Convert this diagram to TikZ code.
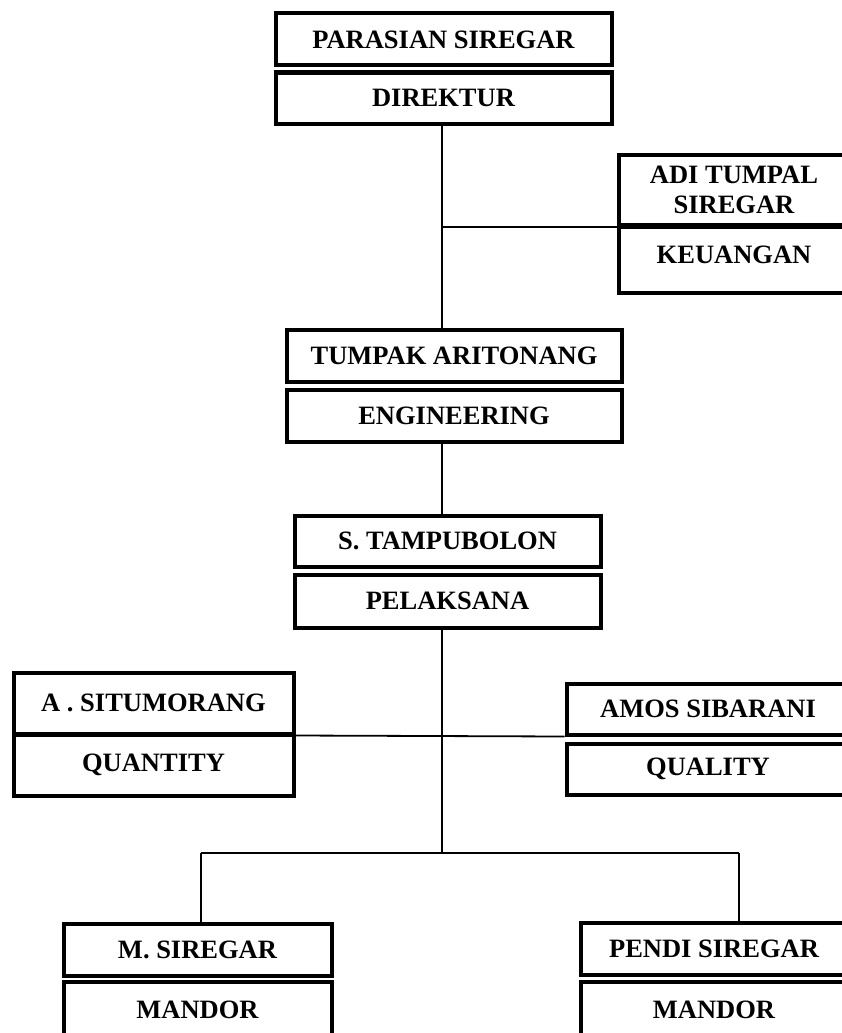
\documentclass[tikz,border=0pt]{standalone}
\usepackage{fontspec}
\setmainfont{Liberation Serif}
\usetikzlibrary{positioning}

\begin{document}
\begin{tikzpicture}[
        x=1pt, y=-1pt,
        font=\bfseries\fontsize{26.5}{30}\selectfont,
        orgbox/.style={draw, line width=4pt, inner sep=0pt, align=center},
        link/.style={line width=1.8pt}
      ]
        \clip (0,0) rectangle (842,1033);

        % column positions
        \def\cM{443.5} \def\cL{153.5} \def\cR{708}

        % ---- Direktur ----
        \node[orgbox, minimum width=336, minimum height=52] (dirname) at (\cM,39.5) {PARASIAN SIREGAR};
        \node[orgbox, minimum width=336, minimum height=51] (dir) at (\cM,98) {DIREKTUR};

        % ---- Keuangan ----
        \node[orgbox, minimum width=231, minimum height=70] (keuname) at (734,190) {ADI TUMPAL\\SIREGAR};
        \node[orgbox, minimum width=231, minimum height=66, text depth=10pt] (keu) at (734,260) {KEUANGAN};

        % ---- Engineering ----
        \node[orgbox, minimum width=335, minimum height=52] (engname) at (454,355.5) {TUMPAK ARITONANG};
        \node[orgbox, minimum width=335, minimum height=52] (eng) at (454,415.5) {ENGINEERING};

        % ---- Pelaksana ----
        \node[orgbox, minimum width=306, minimum height=51] (pelname) at (447.5,541) {S. TAMPUBOLON};
        \node[orgbox, minimum width=306, minimum height=53] (pel) at (447.5,601) {PELAKSANA};

        % ---- Quantity / Quality ----
        \node[orgbox, minimum width=280, minimum height=61] (qtyname) at (\cL,703) {A . SITUMORANG};
        \node[orgbox, minimum width=280, minimum height=61] (qty) at (\cL,765) {QUANTITY};
        \node[orgbox, minimum width=283, minimum height=51] (qlyname) at (\cR,709) {AMOS SIBARANI};
        \node[orgbox, minimum width=283, minimum height=51] (qly) at (\cR,769) {QUALITY};

        % ---- Mandor ----
        \node[orgbox, minimum width=268, minimum height=52] (mdaname) at (197.5,949.5) {M. SIREGAR};
        \node[orgbox, minimum width=268, minimum height=57] (mda) at (197.5,1010) {MANDOR};
        \node[orgbox, minimum width=267, minimum height=52] (mdbname) at (714,948.5) {PENDI SIREGAR};
        \node[orgbox, minimum width=267, minimum height=57] (mdb) at (714,1010) {MANDOR};

        % connectors
        \coordinate (spine) at (442,853);
        \coordinate (barL) at (201,853);
        \coordinate (barR) at (739,853);

        \draw[link] (dir.south -| spine) -- (engname.north -| spine);
        \draw[link] ([yshift=-2pt]keu.north west -| spine) -- ([yshift=-2pt]keu.north west);
        \draw[link] (eng.south -| spine) -- (pelname.north -| spine);
        \draw[link] (pel.south -| spine) -- (spine);
        \draw[link] (qtyname.south east) -- (qlyname.south west);
        \draw[link] (barL) -- (barR);
        \draw[link] (barL) -- (mdaname.north -| barL);
        \draw[link] (barR) -- (mdbname.north -| barR);
    \end{tikzpicture}
\end{document}
